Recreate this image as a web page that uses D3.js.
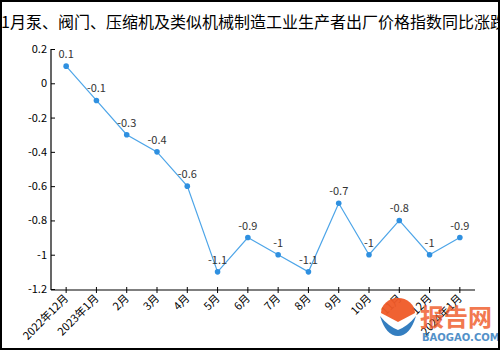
<!DOCTYPE html>
<html><head><meta charset="utf-8">
<script src="https://cdn.jsdelivr.net/npm/d3@7/dist/d3.min.js"></script>
<style>body{margin:0;background:#fff}svg{display:block}</style>
</head><body>
<svg id="c" width="500" height="350"></svg>
<script>
const categories = ["2022年12月","2023年1月","2月","3月","4月","5月","6月","7月","8月","9月","10月","11月","12月","2024年1月"];
const values = [0.1,-0.1,-0.3,-0.4,-0.6,-1.1,-0.9,-1,-1.1,-0.7,-1,-0.8,-1,-0.9];
const yTicks = [0.2,0,-0.2,-0.4,-0.6,-0.8,-1,-1.2];
const title = "1月泵、阀门、压缩机及类似机械制造工业生产者出厂价格指数同比涨跌";

const svg = d3.select("#c");
const font = "'Noto Sans CJK SC','DejaVu Sans',sans-serif";
svg.append("rect").attr("x",0).attr("y",0).attr("width",500).attr("height",350).attr("fill","#fff");

const x = d3.scaleBand().domain(categories).range([51,475]);
const y = d3.scaleLinear().domain([-1.2,0.2]).range([289,49]);
const cx = d => x(d) + x.bandwidth()/2;

// title
const t = svg.append("text").attr("y",28).attr("font-family",font).attr("font-size",16).attr("fill","#000").text(title);
const w1 = t.node().getSubStringLength(0,1);
t.attr("x", 10 - w1);

// y axis
const yAx = svg.append("g").attr("transform","translate(51,0)")
  .call(d3.axisRight(y).tickValues(yTicks).tickSize(4).tickFormat(d=>String(d)));
yAx.select(".domain").remove();
yAx.selectAll("line").attr("stroke","#000");
yAx.selectAll("text").attr("x",-4).attr("text-anchor","end").attr("font-family",font).attr("font-size",11).attr("fill","#000");
svg.append("line").attr("x1",51).attr("x2",51).attr("y1",49).attr("y2",290).attr("stroke","#000").attr("stroke-width",1.2);

// x axis
const xAx = svg.append("g").attr("transform","translate(0,290)")
  .call(d3.axisBottom(x).tickSize(3).tickSizeOuter(0));
xAx.select(".domain").attr("stroke","#000").attr("stroke-width",1.2).attr("d","M51,0H475");
xAx.selectAll(".tick line").attr("y1",-3).attr("y2",3).attr("stroke","#000");
xAx.selectAll(".tick text").attr("font-family",font).attr("font-size",11).attr("fill","#000")
  .attr("text-anchor","end").attr("dy",null).attr("y",0)
  .attr("transform","translate(3,9) rotate(-45)");

// line
svg.append("path").datum(values).attr("fill","none").attr("stroke","#4da5e8").attr("stroke-width",1.2)
  .attr("d", d3.line().x((d,i)=>cx(categories[i])).y(d=>y(d)));
svg.selectAll("circle.p").data(values).join("circle").attr("class","p")
  .attr("cx",(d,i)=>cx(categories[i])).attr("cy",d=>y(d)).attr("r",2.8).attr("fill","#2f90e0");
svg.selectAll("text.lbl").data(values).join("text").attr("class","lbl")
  .attr("x",(d,i)=>cx(categories[i])).attr("y",d=>y(d)-8)
  .attr("text-anchor","middle").attr("font-family",font).attr("font-size",11).attr("fill","#333")
  .text(d=>String(d));

// watermark
const wm = svg.append("g").attr("opacity",0.95);
wm.append("path").attr("d","M381,313 A17,15 0 0 1 415,313 L398,322 Z").attr("fill","#f05a28");
wm.append("path").attr("d","M380,316 Q386,336 398,336 Q410,336 416,316 Q408,326 398,330 Q388,326 380,316 Z").attr("fill","#2a78bd");
wm.append("text").attr("x",420).attr("y",326).attr("font-family",font).attr("font-weight","bold").attr("font-size",24).attr("fill","#f05a28").attr("opacity",0.85).text("报告网");
wm.append("text").attr("x",422).attr("y",341).attr("font-family","'DejaVu Sans',sans-serif").attr("font-weight","bold").attr("font-size",10).attr("fill","#2a78bd").attr("opacity",0.85).text("BAOGAO.COM");

// border
svg.append("rect").attr("x",1).attr("y",1).attr("width",498).attr("height",348).attr("fill","none").attr("stroke","#000").attr("stroke-width",2);
</script>
</body></html>
